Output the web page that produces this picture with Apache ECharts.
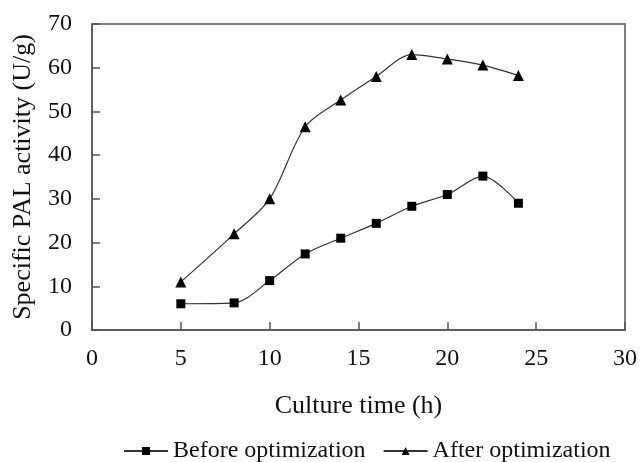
<!DOCTYPE html>
<html>
<head>
<meta charset="utf-8">
<script src="https://cdn.jsdelivr.net/npm/echarts@6/dist/echarts.min.js"></script>
<style>html,body{margin:0;padding:0;background:#fff;}#chart{width:640px;height:462px;}</style>
</head>
<body>
<div id="chart"></div>
<script>
var timeHours = [5, 8, 10, 12, 14, 16, 18, 20, 22, 24];
var beforeOptimization = [6, 6.2, 11.3, 17.4, 21, 24.4, 28.3, 31, 35.2, 29];
var afterOptimization = [11, 22, 30, 46.5, 52.6, 58, 63, 62, 60.6, 58.2];
var seriesNames = ['Before optimization', 'After optimization'];
var xTitle = 'Culture time (h)';
var yTitle = 'Specific PAL activity (U/g)';

function pairs(xs, ys) { return xs.map(function (x, i) { return [x, ys[i]]; }); }

var FONT = "'Liberation Serif', 'Times New Roman', serif";
var chart = echarts.init(document.getElementById('chart'), null, { renderer: 'canvas' });
chart.setOption({
  animation: false,
  backgroundColor: '#fff',
  grid: { left: 92, right: 12, top: 24, bottom: 132, show: true, borderColor: '#555', borderWidth: 1.5, backgroundColor: 'transparent' },
  legend: {
    top: 434, left: 118,
    itemWidth: 44, itemHeight: 10, itemGap: 17,
    textStyle: { fontFamily: FONT, fontSize: 24, color: '#111' },
    data: seriesNames
  },
  xAxis: {
    type: 'value', min: 0, max: 30, interval: 5,
    name: xTitle, nameLocation: 'middle', nameGap: 63,
    nameTextStyle: { fontFamily: FONT, fontSize: 26, color: '#111' },
    axisLine: { lineStyle: { color: '#555', width: 1.5 } },
    axisTick: { inside: true, length: 8, lineStyle: { color: '#555', width: 1.5 } },
    axisLabel: { fontFamily: FONT, fontSize: 24, color: '#111', margin: 17 },
    splitLine: { show: false }
  },
  yAxis: {
    type: 'value', min: 0, max: 70, interval: 10,
    name: yTitle, nameLocation: 'middle', nameGap: 56,
    nameTextStyle: { fontFamily: FONT, fontSize: 26, color: '#111' },
    axisLine: { show: true, lineStyle: { color: '#555', width: 1.5 } },
    axisTick: { show: true, inside: true, length: 8, lineStyle: { color: '#555', width: 1.5 } },
    axisLabel: { fontFamily: FONT, fontSize: 24, color: '#111', margin: 20 },
    splitLine: { show: false }
  },
  series: [
    {
      name: seriesNames[0], type: 'line', smooth: 0.3,
      data: pairs(timeHours, beforeOptimization),
      symbol: 'rect', symbolSize: 9,
      lineStyle: { color: '#333', width: 1.2 },
      itemStyle: { color: '#000' }
    },
    {
      name: seriesNames[1], type: 'line', smooth: 0.3,
      data: pairs(timeHours, afterOptimization),
      symbol: 'triangle', symbolSize: 11,
      lineStyle: { color: '#333', width: 1.2 },
      itemStyle: { color: '#000' }
    }
  ]
});
</script>
</body>
</html>
